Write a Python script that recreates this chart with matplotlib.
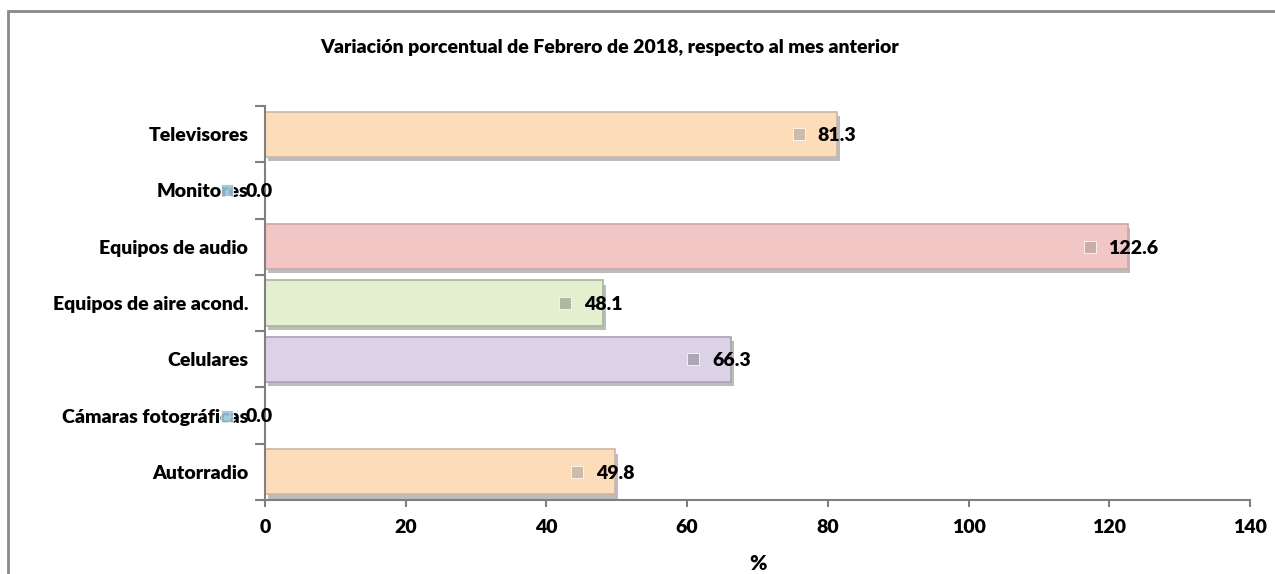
import matplotlib.pyplot as plt
import matplotlib.patheffects as pe
import matplotlib.transforms as mtransforms
from matplotlib.patches import Rectangle

plt.rcParams["font.family"] = ["Lato", "DejaVu Sans"]

categories = ["Autorradio", "Cámaras fotográficas", "Celulares", "Equipos de aire acond.",
              "Equipos de audio", "Monitores", "Televisores"]
values = [49.8, 0.0, 66.3, 48.1, 122.6, 0.0, 81.3]
bar_colors = ["#FDDCB9", "#C9DDF0", "#DCD2E8", "#E3EFCF", "#F3C6C6", "#C9DDF0", "#FDDCB9"]
marker_colors = ["#C9B8A8", "#9EC3DA", "#A8A3B0", "#A9B49C", "#C8A8A8", "#9EC3DA", "#C9B8A8"]
x_ticks = [0, 20, 40, 60, 80, 100, 120, 140]

FS = 14
fig = plt.figure(figsize=(12.75, 5.74), dpi=100)
fig.patches.append(Rectangle((8 / 1275, -0.1), 1.2, 1.1 - 11 / 574, transform=fig.transFigure,
                             fill=False, edgecolor="#8A8A8A", linewidth=2))

ax = fig.add_axes([265 / 1275, 1 - 500 / 574, (1250 - 265) / 1275, (500 - 106) / 574])
pos = list(range(len(categories)))
bars = ax.barh(pos, values, height=0.8, color=bar_colors, linewidth=1.2)
for b, ec in zip(bars, marker_colors):
    b.set_edgecolor(ec)
    b.set_path_effects([pe.SimplePatchShadow(offset=(2, -3), shadow_rgbFace="#909090", alpha=0.6),
                        pe.Normal()])

shift = mtransforms.ScaledTranslation(-38 / 100, 0, fig.dpi_scale_trans)
for p, v, mc in zip(pos, values, marker_colors):
    ax.plot([v], [p], marker="s", markersize=8, color=mc, markeredgecolor="white",
            markeredgewidth=0.6, linestyle="none", clip_on=False, alpha=0.9,
            transform=ax.transData + shift, zorder=4)
    ax.annotate(f"{v:.1f}", xy=(v, p), xytext=(-14, -1), textcoords="offset points",
                ha="left", va="center", fontsize=FS, fontweight="heavy", color="black", zorder=5)

ax.set_xlim(0, 140)
ax.set_ylim(-0.5, len(categories) - 0.5)
ax.set_xticks(x_ticks)
ax.set_xticklabels([str(t) for t in x_ticks], fontsize=FS, fontweight="heavy")
ax.set_yticks(pos)
ax.set_yticklabels(categories, fontsize=FS, fontweight="heavy")
ax.set_yticks([p - 0.5 for p in pos] + [len(categories) - 0.5], minor=True)
ax.tick_params(axis="y", which="major", length=0, pad=12)
ax.tick_params(axis="y", which="minor", length=7, color="#808080", width=1.5)
ax.tick_params(axis="x", length=5, color="#808080", width=1.5, pad=9)
for s in ["top", "right"]:
    ax.spines[s].set_visible(False)
for s in ["left", "bottom"]:
    ax.spines[s].set_color("#808080")
    ax.spines[s].set_linewidth(1.5)
ax.set_xlabel("%", fontsize=15, fontweight="heavy", labelpad=13)

fig.text(610 / 1275, 1 - 47 / 574, "Variación porcentual de Febrero de 2018, respecto al mes anterior",
         ha="center", va="center", fontsize=FS, fontweight="heavy")

fig.savefig("out.png", dpi=100)
